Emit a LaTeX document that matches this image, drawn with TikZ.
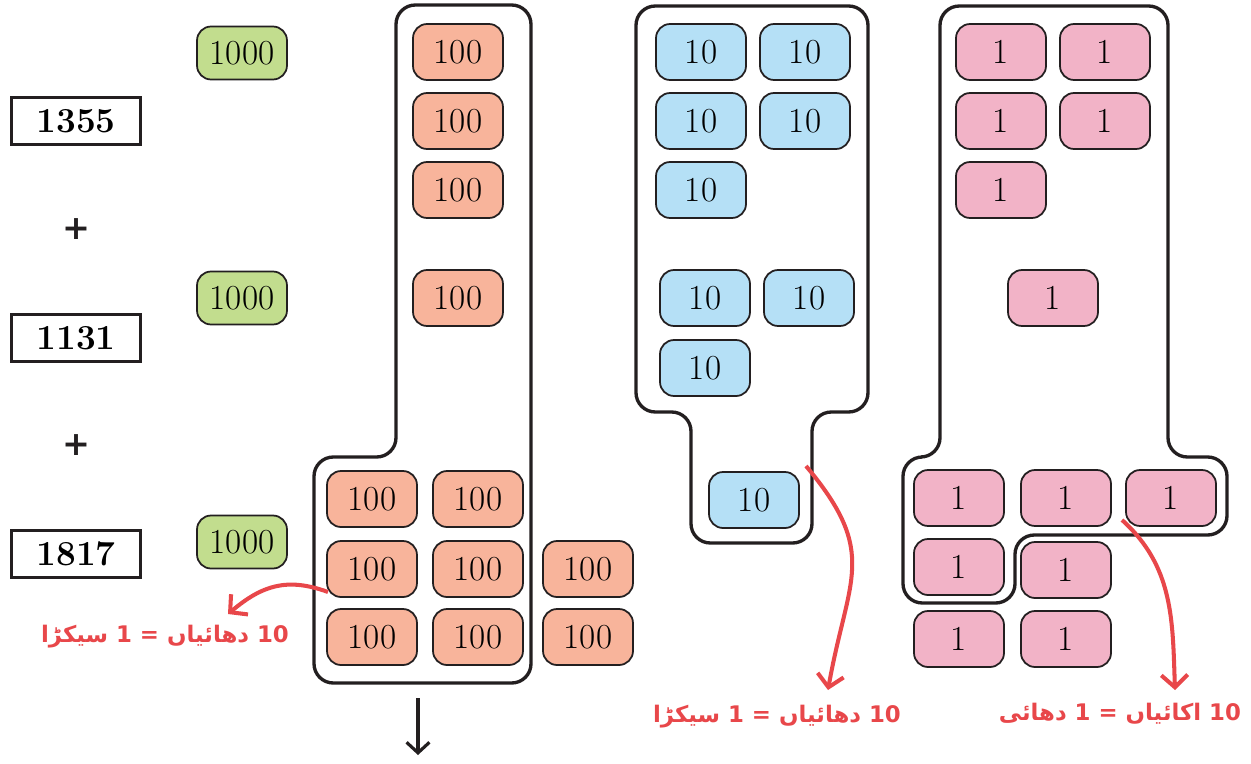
\documentclass[tikz,border=0pt]{standalone}
\usepackage{fontspec}
\usetikzlibrary{arrows.meta}
\TeXXeTstate=1
\newfontfamily\urdufont[Script=Arabic]{DejaVu Sans}
\newfontfamily\signfont{DejaVu Sans}
\definecolor{thousandc}{HTML}{C2DD8E}
\definecolor{hundredc}{HTML}{F8B49B}
\definecolor{tenc}{HTML}{B5E0F6}
\definecolor{onec}{HTML}{F2B3C7}
\definecolor{redc}{HTML}{E8474A}
\definecolor{inkc}{HTML}{231F20}

\begin{document}
\begin{tikzpicture}[x=0.02cm,y=-0.02cm]

\tikzset{block/.style = {shape=rectangle,draw=inkc,rounded corners=8pt,line width=1pt,minimum width=1.8cm,minimum height=1.12cm,inner sep=0pt,font=\fontsize{20}{22}\selectfont}}
\tikzset{thousand/.style = {block,fill=thousandc,minimum height=1.06cm}}
\tikzset{hundred/.style = {block,fill=hundredc}}
\tikzset{ten/.style = {block,fill=tenc}}
\tikzset{one/.style = {block,fill=onec}}
\tikzset{numbox/.style = {shape=rectangle,draw=inkc,line width=1.7pt,minimum width=2.6cm,minimum height=0.94cm,font=\fontsize{20}{22}\selectfont\bfseries}}
\tikzset{plus/.style = {font=\signfont\bfseries\fontsize{19}{22}\selectfont,text=inkc}}
\tikzset{outline/.style = {draw=inkc,line width=1.9pt,rounded corners=11pt}}
\tikzset{edge/.style = {-{Straight Barb[length=7pt,width=15pt]},line width=2.3pt,draw=redc}}
\tikzset{rule/.style = {font=\urdufont\bfseries\fontsize{13}{16}\selectfont,text=redc}}

\useasboundingbox (0,0) rectangle (1251,764);

%outlines
\draw[outline] (396,5) -- (531,5) -- (531,683) -- (314,683) -- (314,457) -- (396,457) -- cycle;
\draw[outline] (636,6) -- (868,6) -- (868,412) -- (812,412) -- (812,543) -- (691,543) -- (691,412) -- (636,412) -- cycle;
\draw[outline] (940,6) -- (1168,6) -- (1168,457) -- (1227,457) -- (1227,535) -- (1015,535) -- (1015,603) -- (903,603) -- (903,457) -- (940,457) -- cycle;

%numbers
\node[numbox] (n1) at (76,121) {1355};
\node[plus] (p1) at (76,229) {+};
\node[numbox] (n2) at (76,338) {1131};
\node[plus] (p2) at (76,445) {+};
\node[numbox] (n3) at (76,554) {1817};

%thousands
\node[thousand] (th1) at (242,53) {1000};
\node[thousand] (th2) at (242,298) {1000};
\node[thousand] (th3) at (242,542) {1000};

%hundreds
\node[hundred] (h1) at (458,52) {100};
\node[hundred] (h2) at (458,121) {100};
\node[hundred] (h3) at (458,190) {100};
\node[hundred] (h4) at (458,298) {100};
\node[hundred] (h5) at (372,499) {100};
\node[hundred] (h6) at (478,499) {100};
\node[hundred] (h7) at (372,569) {100};
\node[hundred] (h8) at (478,569) {100};
\node[hundred] (h9) at (588,569) {100};
\node[hundred] (h10) at (372,637) {100};
\node[hundred] (h11) at (478,637) {100};
\node[hundred] (h12) at (588,637) {100};

%tens
\node[ten] (t1) at (701,52) {10};
\node[ten] (t2) at (805,52) {10};
\node[ten] (t3) at (701,121) {10};
\node[ten] (t4) at (805,121) {10};
\node[ten] (t5) at (701,190) {10};
\node[ten] (t6) at (705,298) {10};
\node[ten] (t7) at (809,298) {10};
\node[ten] (t8) at (705,368) {10};
\node[ten] (t9) at (754,500) {10};

%ones
\node[one] (o1) at (1001,52) {1};
\node[one] (o2) at (1105,52) {1};
\node[one] (o3) at (1001,121) {1};
\node[one] (o4) at (1105,121) {1};
\node[one] (o5) at (1001,190) {1};
\node[one] (o6) at (1053,298) {1};
\node[one] (o7) at (959,498) {1};
\node[one] (o8) at (1066,498) {1};
\node[one] (o9) at (1171,498) {1};
\node[one] (o10) at (959,567) {1};
\node[one] (o11) at (1066,570) {1};
\node[one] (o12) at (959,639) {1};
\node[one] (o13) at (1066,639) {1};

%labels
\node[rule] (r1) at (165,637) {\beginR\beginL10\endL{} دهائیاں = \beginL1\endL{} سیکڑا\endR};
\node[rule] (r2) at (777,717) {\beginR\beginL10\endL{} دهائیاں = \beginL1\endL{} سیکڑا\endR};
\node[rule] (r3) at (1120,714) {\beginR\beginL10\endL{} اکائیاں = \beginL1\endL{} دهائی\endR};

%edges
\coordinate (a1) at (328,592);
\coordinate (b1) at (228,614);
\coordinate (a2) at (806,466);
\coordinate (b2) at (828,690);
\coordinate (a3) at (1122,520);
\coordinate (b3) at (1175,690);
\coordinate (a4) at (418,698);
\coordinate (b4) at (418,755);
\draw[edge] (a1) to[out=160,in=40,looseness=1.1] (b1);
\draw[edge] (a2) to[out=-50,in=80,looseness=1.3] (b2);
\draw[edge] (a3) to[out=-42,in=92] (b3);
\draw[edge,draw=inkc,line width=1.8pt,-{Straight Barb[length=6pt,width=13pt]}] (a4) -- (b4);

\end{tikzpicture}
\end{document}
